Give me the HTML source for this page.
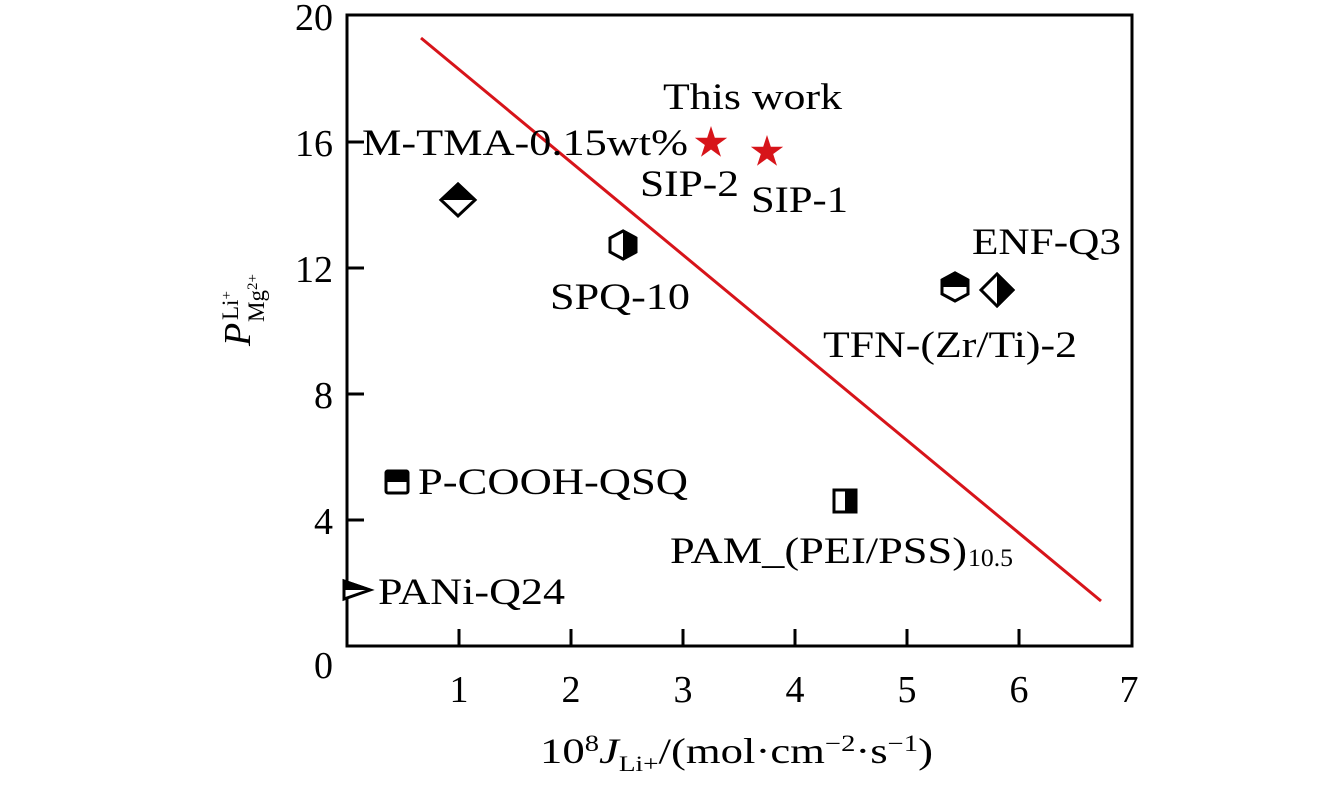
<!DOCTYPE html>
<html><head><meta charset="utf-8"><style>
html,body{margin:0;padding:0;background:#fff;}
svg{display:block;}
text{font-family:"Liberation Serif",serif;fill:#000;}
</style></head><body>
<svg width="1339" height="787" viewBox="0 0 1339 787" xmlns="http://www.w3.org/2000/svg">
<defs>
<clipPath id="top"><rect x="-20" y="-20" width="40" height="20"/></clipPath>
<clipPath id="right"><rect x="0" y="-20" width="20" height="40"/></clipPath>
</defs>
<line x1="421" y1="38" x2="1101" y2="601" stroke="#d7141a" stroke-width="3"/>
<rect x="347" y="15" width="785" height="631" fill="none" stroke="#000" stroke-width="3"/>
<g stroke="#000" stroke-width="3">
<line x1="459" y1="646" x2="459" y2="629"/><line x1="571" y1="646" x2="571" y2="629"/>
<line x1="683" y1="646" x2="683" y2="629"/><line x1="795" y1="646" x2="795" y2="629"/>
<line x1="907" y1="646" x2="907" y2="629"/><line x1="1019" y1="646" x2="1019" y2="629"/>
<line x1="347" y1="520" x2="364" y2="520"/><line x1="347" y1="394" x2="364" y2="394"/>
<line x1="347" y1="268" x2="364" y2="268"/><line x1="347" y1="142" x2="364" y2="142"/>
</g>
<g font-size="38" text-anchor="middle">
<text x="459" y="702">1</text><text x="571" y="702">2</text><text x="683" y="702">3</text>
<text x="795" y="702">4</text><text x="907" y="702">5</text><text x="1019" y="702">6</text><text x="1129" y="702">7</text>
</g>
<g font-size="38" text-anchor="end">
<text x="333" y="678">0</text><text x="333" y="534">4</text><text x="333" y="408">8</text>
<text x="333" y="282">12</text><text x="333" y="156">16</text><text x="333" y="30">20</text>
</g>
<text x="540" y="763" font-size="36" textLength="393" lengthAdjust="spacingAndGlyphs">10<tspan dy="-12" font-size="23">8</tspan><tspan dy="12" font-style="italic">J</tspan><tspan dy="8" font-size="22">Li+</tspan><tspan dy="-8">/(mol·cm</tspan><tspan dy="-12" font-size="23">−2</tspan><tspan dy="12">·s</tspan><tspan dy="-12" font-size="23">−1</tspan><tspan dy="12">)</tspan></text>
<g transform="translate(250,346) rotate(-90)">
<text x="0" y="0" font-size="38" font-style="italic">P</text>
<text x="26" y="-12" font-size="23">Li<tspan dy="-7" font-size="15">+</tspan></text>
<text x="24" y="14" font-size="23">Mg<tspan dy="-7" font-size="15">2+</tspan></text>
</g>
<g stroke="#000" stroke-width="3">
<g transform="translate(356,590)"><polygon points="-12,-9 14,0 -12,9" fill="#fff"/><polygon points="-12,-9 14,0 -12,9" fill="#000" clip-path="url(#top)"/></g>
<g transform="translate(397,482)"><rect x="-11" y="-11" width="22" height="22" rx="2" fill="#fff"/><rect x="-11" y="-11" width="22" height="22" rx="2" fill="#000" clip-path="url(#top)"/></g>
<g transform="translate(458,200)"><polygon points="0,-16 17,0 0,16 -17,0" fill="#fff"/><polygon points="0,-16 17,0 0,16 -17,0" fill="#000" clip-path="url(#top)"/></g>
<g transform="translate(623,245)"><polygon points="0,-14 13,-7 13,7 0,14 -13,7 -13,-7" fill="#fff"/><polygon points="0,-14 13,-7 13,7 0,14 -13,7 -13,-7" fill="#000" clip-path="url(#right)"/></g>
<g transform="translate(845,501)"><rect x="-11" y="-11" width="22" height="22" fill="#fff"/><rect x="-11" y="-11" width="22" height="22" fill="#000" clip-path="url(#right)"/></g>
<g transform="translate(955,287)"><polygon points="0,-14 13,-7 13,7 0,14 -13,7 -13,-7" fill="#fff"/><polygon points="0,-14 13,-7 13,7 0,14 -13,7 -13,-7" fill="#000" clip-path="url(#top)"/></g>
<g transform="translate(997,290)"><polygon points="0,-16 16,0 0,16 -16,0" fill="#fff"/><polygon points="0,-16 16,0 0,16 -16,0" fill="#000" clip-path="url(#right)"/></g>
</g>
<g fill="#d7141a">
<polygon transform="translate(711,143) scale(17)" points="0,-1 0.2245,-0.309 0.951,-0.309 0.3633,0.118 0.5878,0.809 0,0.382 -0.5878,0.809 -0.3633,0.118 -0.951,-0.309 -0.2245,-0.309"/>
<polygon transform="translate(767,152) scale(17)" points="0,-1 0.2245,-0.309 0.951,-0.309 0.3633,0.118 0.5878,0.809 0,0.382 -0.5878,0.809 -0.3633,0.118 -0.951,-0.309 -0.2245,-0.309"/>
</g>
<g font-size="37">
<text x="663" y="109" textLength="179" lengthAdjust="spacingAndGlyphs">This work</text>
<text x="362" y="155" textLength="326" lengthAdjust="spacingAndGlyphs">M-TMA-0.15wt%</text>
<text x="640" y="196" textLength="99" lengthAdjust="spacingAndGlyphs">SIP-2</text>
<text x="751" y="212" textLength="97" lengthAdjust="spacingAndGlyphs">SIP-1</text>
<text x="972" y="254" textLength="149" lengthAdjust="spacingAndGlyphs">ENF-Q3</text>
<text x="550" y="309" textLength="140" lengthAdjust="spacingAndGlyphs">SPQ-10</text>
<text x="823" y="357" textLength="254" lengthAdjust="spacingAndGlyphs">TFN-(Zr/Ti)-2</text>
<text x="418" y="494" textLength="270" lengthAdjust="spacingAndGlyphs">P-COOH-QSQ</text>
<text x="670" y="563" textLength="297" lengthAdjust="spacingAndGlyphs">PAM_(PEI/PSS)</text>
<text x="968" y="566" font-size="25" textLength="45" lengthAdjust="spacingAndGlyphs">10.5</text>
<text x="378" y="604" textLength="187" lengthAdjust="spacingAndGlyphs">PANi-Q24</text>
</g>
</svg>
</body></html>
